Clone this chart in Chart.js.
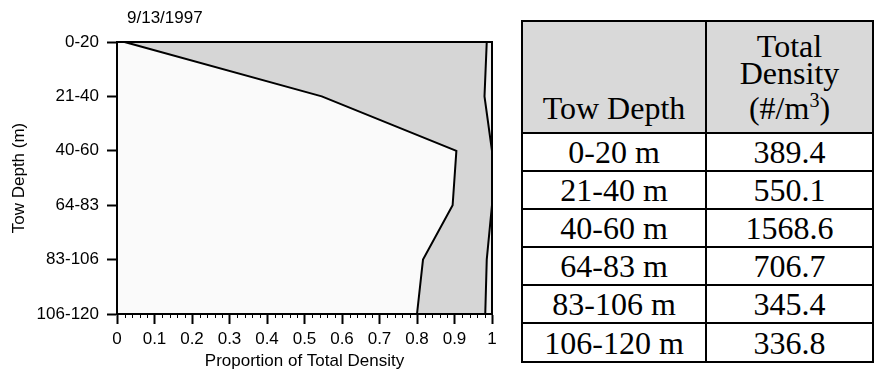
<!DOCTYPE html>
<html>
<head>
    <title>Tow Depth Profile 9/13/1997</title>
    <script src="https://cdn.jsdelivr.net/npm/chart.js"></script>
    <style>
        body { margin: 0; width: 876px; height: 381px; position: relative; background: #fff; overflow: hidden; }
        #chartBox { position: absolute; left: 0; top: 0; width: 520px; height: 381px; }
        #densityTable {
            position: absolute; left: 521px; top: 20px;
            border-collapse: collapse;
            font-family: "Liberation Serif", "Times New Roman", serif;
            font-size: 32px; color: #000;
        }
        #densityTable th, #densityTable td { border: 2px solid #000; text-align: center; padding: 0; font-weight: normal; }
        #densityTable th { background: #d9d9d9; vertical-align: bottom; height: 100px; line-height: 27px; padding-bottom: 10px; }
        #densityTable td { height: 36px; line-height: 36px; }
        #densityTable tbody tr:last-child td { height: 37px; }
        #densityTable sup { font-size: 20px; }
    </style>
</head>
<body>
    <div id="chartBox"><canvas id="profileChart"></canvas></div>
    <table id="densityTable">
        <colgroup><col style="width: 184px"><col style="width: 167px"></colgroup>
        <thead><tr id="headRow"></tr></thead>
        <tbody id="tableBody"></tbody>
    </table>
    <script>
        // chart data
        const depthLabels = ['0-20', '21-40', '40-60', '64-83', '83-106', '106-120'];
        const innerProportion = [0.02, 0.546, 0.905, 0.895, 0.816, 0.8];
        const outerProportion = [0.986, 0.98, 1.0, 1.0, 0.986, 0.982];
        const sampleDate = '9/13/1997';

        // table data
        const tableHeaders = ['Tow Depth', 'Total<br>Density<br>(#/m<sup>3</sup>)'];
        const tableDepths = ['0-20 m', '21-40 m', '40-60 m', '64-83 m', '83-106 m', '106-120 m'];
        const tableDensities = ['389.4', '550.1', '1568.6', '706.7', '345.4', '336.8'];

        const headRow = document.getElementById('headRow');
        tableHeaders.forEach(h => {
            const th = document.createElement('th');
            th.innerHTML = h;
            headRow.appendChild(th);
        });
        const tableBody = document.getElementById('tableBody');
        tableDepths.forEach((d, i) => {
            const tr = document.createElement('tr');
            [d, tableDensities[i]].forEach(v => {
                const td = document.createElement('td');
                td.textContent = v;
                tr.appendChild(td);
            });
            tableBody.appendChild(tr);
        });

        Chart.defaults.font.family = '"Liberation Sans", Arial, sans-serif';
        Chart.defaults.color = '#000';

        const labelFont = { size: 17 };

        // background, frame, minor ticks and the date label
        const plotFrame = {
            id: 'plotFrame',
            beforeDraw(chart) {
                const a = chart.chartArea;
                const ctx = chart.ctx;
                ctx.save();
                ctx.fillStyle = '#efefef';
                ctx.fillRect(a.left, a.top, a.right - a.left, a.bottom - a.top);
                ctx.restore();
            },
            afterDatasetsDraw(chart) {
                const a = chart.chartArea;
                const ctx = chart.ctx;
                ctx.save();
                ctx.strokeStyle = '#000';
                ctx.lineWidth = 2;
                ctx.strokeRect(a.left, a.top, a.right - a.left, a.bottom - a.top);
                ctx.restore();
            },
            afterDraw(chart) {
                const a = chart.chartArea;
                const ctx = chart.ctx;
                const xs = chart.scales.x;
                ctx.save();
                ctx.strokeStyle = '#000';
                ctx.lineWidth = 1;
                for (let i = 1; i < 50; i++) {
                    if (i % 5 === 0) continue;
                    const px = Math.round(xs.getPixelForValue(i / 50)) + 0.5;
                    ctx.beginPath();
                    ctx.moveTo(px, a.bottom);
                    ctx.lineTo(px, a.bottom + 4);
                    ctx.stroke();
                }
                ctx.fillStyle = '#000';
                ctx.font = '17px "Liberation Sans", Arial, sans-serif';
                ctx.textBaseline = 'middle';
                ctx.textAlign = 'left';
                ctx.fillText(sampleDate, a.left + 10, 18);
                ctx.restore();
            }
        };

        new Chart(document.getElementById('profileChart').getContext('2d'), {
            type: 'line',
            data: {
                labels: depthLabels,
                datasets: [
                    {
                        label: 'Inner',
                        data: innerProportion,
                        borderColor: '#000',
                        borderWidth: 2,
                        backgroundColor: '#fafafa',
                        fill: 'origin',
                        pointRadius: 0,
                        tension: 0,
                    },
                    {
                        label: 'Outer',
                        data: outerProportion,
                        borderColor: '#000',
                        borderWidth: 2,
                        backgroundColor: '#d6d6d6',
                        fill: '-1',
                        pointRadius: 0,
                        tension: 0,
                    },
                ],
            },
            options: {
                indexAxis: 'y',
                responsive: true,
                maintainAspectRatio: false,
                animation: false,
                layout: { padding: { top: 42, right: 28, left: 0, bottom: 0 } },
                plugins: {
                    legend: { display: false },
                    tooltip: { enabled: false },
                },
                scales: {
                    x: {
                        type: 'linear',
                        position: 'bottom',
                        min: 0,
                        max: 1,
                        ticks: {
                            stepSize: 0.1, font: labelFont, padding: 5, maxRotation: 0, autoSkip: false,
                            callback: v => String(Number(v.toFixed(2))),
                        },
                        grid: { drawOnChartArea: false, drawTicks: true, tickLength: 10, tickWidth: 2, tickColor: '#000' },
                        border: { display: true, color: '#000', width: 2 },
                        title: { display: true, text: 'Proportion of Total Density', font: labelFont, padding: { top: 0, bottom: 9 } },
                        afterFit(scale) { scale.height = 67; },
                    },
                    y: {
                        type: 'category',
                        position: 'left',
                        offset: false,
                        ticks: { font: labelFont, padding: 8, autoSkip: false },
                        grid: { drawOnChartArea: false, drawTicks: true, tickLength: 10, tickWidth: 2, tickColor: '#000', offset: false },
                        border: { display: true, color: '#000', width: 2 },
                        title: { display: true, text: 'Tow Depth (m)', font: labelFont, padding: { top: 9, bottom: 0 } },
                        afterFit(scale) { scale.width = 117; },
                    },
                },
            },
            plugins: [plotFrame],
        });
    </script>
</body>
</html>
